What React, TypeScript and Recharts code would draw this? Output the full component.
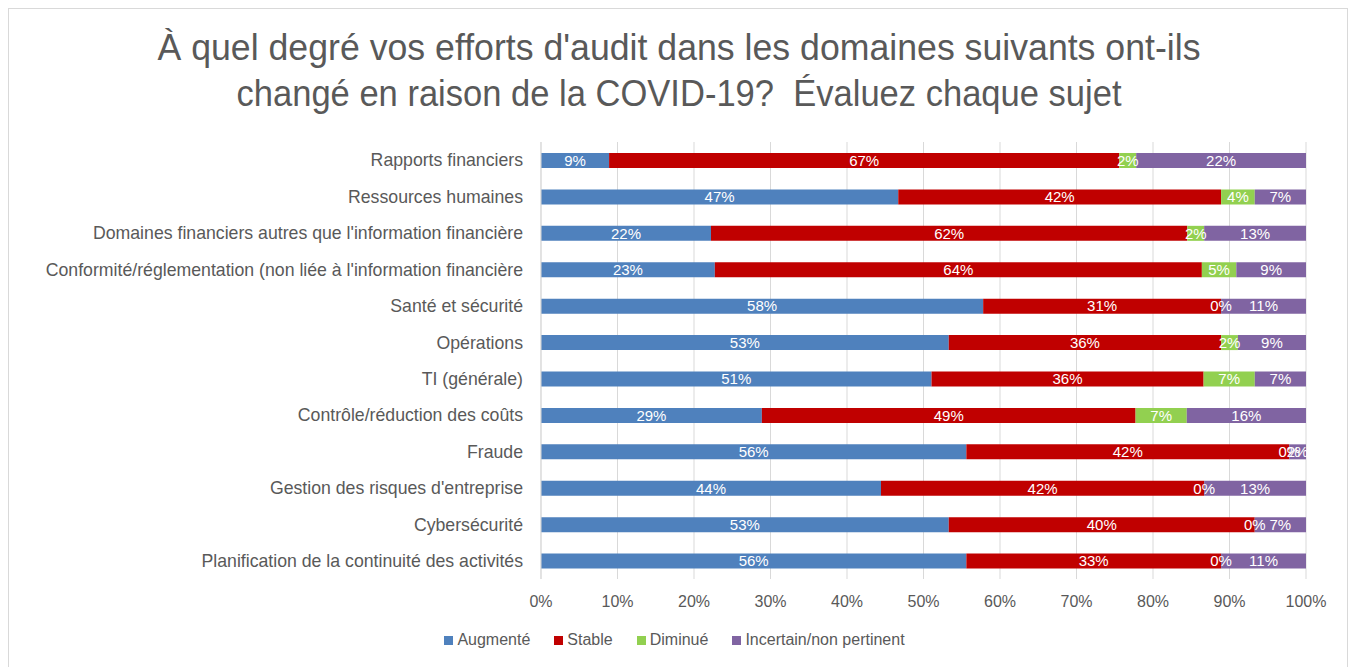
import React from 'react';
import { BarChart, Bar, XAxis, YAxis, CartesianGrid, LabelList, Legend } from 'recharts';

const categories = [
  'Rapports financiers',
  'Ressources humaines',
  "Domaines financiers autres que l'information financière",
  "Conformité/réglementation (non liée à l'information financière",
  'Santé et sécurité',
  'Opérations',
  'TI (générale)',
  'Contrôle/réduction des coûts',
  'Fraude',
  "Gestion des risques d'entreprise",
  'Cybersécurité',
  'Planification de la continuité des activités',
];

const augmente = [8.9, 46.7, 22.2, 22.7, 57.8, 53.3, 51.1, 28.9, 55.6, 44.4, 53.3, 55.6];
const stable = [66.7, 42.2, 62.2, 63.6, 31.1, 35.6, 35.6, 48.9, 42.2, 42.2, 40.0, 33.3];
const diminue = [2.2, 4.4, 2.2, 4.5, 0, 2.2, 6.7, 6.7, 0, 0, 0, 0];
const incertain = [22.2, 6.7, 13.3, 9.1, 11.1, 8.9, 6.7, 15.6, 2.2, 13.3, 6.7, 11.1];

const xTicks = [0, 0.1, 0.2, 0.3, 0.4, 0.5, 0.6, 0.7, 0.8, 0.9, 1];

const seriesNames = ['Augmenté', 'Stable', 'Diminué', 'Incertain/non pertinent'];
const seriesColors = ['#4F81BD', '#C00000', '#92D050', '#8064A2'];

const titleLines = [
  "À quel degré vos efforts d'audit dans les domaines suivants ont-ils",
  'changé en raison de la COVID-19?  Évaluez chaque sujet',
];

const data = categories.map((name, i) => ({
  name,
  aug: augmente[i],
  sta: stable[i],
  dim: diminue[i],
  inc: incertain[i],
}));

const FONT = '"Liberation Sans", Arial, sans-serif';
const GREY = '#595959';

const fmt = (v: any) => `${Math.round(Number(v))}%`;

const LegendContent = (props: any) => {
  const payload = [...(props.payload || [])].sort(
    (a: any, b: any) => seriesNames.indexOf(a.value) - seriesNames.indexOf(b.value)
  );
  return (
    <div style={{ display: 'flex', justifyContent: 'center', fontFamily: FONT, fontSize: 16, color: GREY }}>
      {payload.map((p: any, i: number) => (
        <div key={i} style={{ display: 'flex', alignItems: 'center', marginRight: i < payload.length - 1 ? 24 : 0 }}>
          <span style={{ display: 'inline-block', width: 9, height: 9, background: p.color, marginRight: 4 }} />
          <span>{p.value}</span>
        </div>
      ))}
    </div>
  );
};

export default function App() {
  const keys = ['aug', 'sta', 'dim', 'inc'];
  return (
    <div style={{ position: 'absolute', left: 0, top: 0, width: 1349, height: 667, overflow: 'hidden', background: '#fff' }}>
      <div
        style={{
          position: 'absolute',
          left: 8,
          top: 8,
          width: 1340,
          height: 659,
          boxSizing: 'border-box',
          border: '1px solid #d9d9d9',
          borderBottom: 'none',
        }}
      />
      <svg width={1349} height={130} style={{ position: 'absolute', left: 0, top: 0 }}>
        <text x={679} y={60} textAnchor="middle" fontFamily={FONT} fontSize={36} fill={GREY} textLength={1043} lengthAdjust="spacingAndGlyphs" style={{ whiteSpace: 'pre' }}>
          {titleLines[0]}
        </text>
        <text x={679} y={106} textAnchor="middle" fontFamily={FONT} fontSize={36} fill={GREY} textLength={885} lengthAdjust="spacingAndGlyphs" style={{ whiteSpace: 'pre' }}>
          {titleLines[1]}
        </text>
      </svg>
      <div style={{ position: 'absolute', left: 0, top: 0 }}>
        <BarChart
          width={1349}
          height={667}
          data={data}
          layout="vertical"
          stackOffset="expand"
          margin={{ top: 142, right: 43, bottom: 58, left: 0 }}
        >
          <CartesianGrid horizontal={false} stroke="#d9d9d9" />
          <XAxis
            type="number"
            domain={[0, 1]}
            ticks={xTicks}
            tickFormatter={(v: number) => `${Math.round(v * 100)}%`}
            axisLine={false}
            tickLine={false}
            tickSize={0}
            tickMargin={17}
            height={30}
            tick={{ fill: GREY, fontSize: 16, fontFamily: FONT }}
            interval={0}
          />
          <YAxis
            type="category"
            dataKey="name"
            width={541}
            axisLine={{ stroke: '#d9d9d9' }}
            tickLine={false}
            tickSize={0}
            tickMargin={18}
            interval={0}
            tick={{ fill: GREY, fontSize: 17.7, fontFamily: FONT }}
          />
          <Legend
            layout="horizontal"
            verticalAlign="middle"
            align="center"
            wrapperStyle={{ top: 631, left: 0, width: 1349 }}
            content={<LegendContent />}
          />
          {keys.map((k, i) => (
            <Bar
              key={k}
              dataKey={k}
              name={seriesNames[i]}
              stackId="a"
              fill={seriesColors[i]}
              barSize={15}
              minPointSize={0.1}
              isAnimationActive={false}
            >
              <LabelList dataKey={k} position="center" fill="#ffffff" fontSize={15} fontFamily={FONT} formatter={fmt} />
            </Bar>
          ))}
        </BarChart>
      </div>
    </div>
  );
}
